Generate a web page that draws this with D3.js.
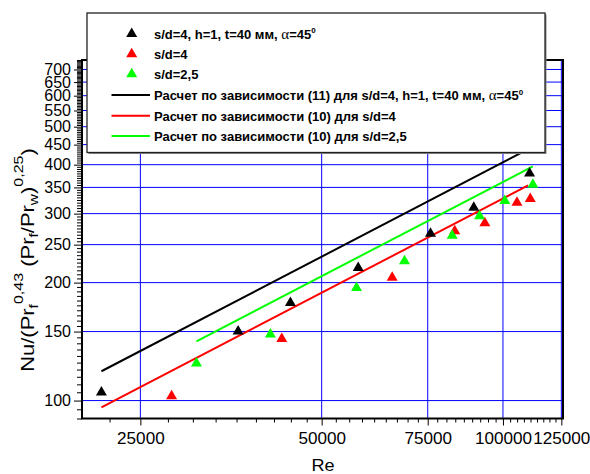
<!DOCTYPE html>
<html><head><meta charset="utf-8">
<script src="https://cdn.jsdelivr.net/npm/d3@7"></script>
<style>body{margin:0;background:#fff}svg{display:block}</style>
</head><body><svg id="c" width="590" height="474"></svg>
<script>
// ---- data ----
const blackRe = [21540, 36330, 44370, 57500, 75800, 89440, 110700];
const blackNu = [105.9, 151.5, 179.2, 220.1, 269.4, 313.7, 383.8];
const redRe   = [28170, 42930, 65470, 83170, 93300, 105500, 111000];
const redNu   = [103.6, 145.0, 208.0, 273.1, 286.2, 323.2, 330.1];
const greenRe = [30980, 41100, 57130, 68630, 82360, 91420, 100700, 112100];
const greenNu = [125.5, 148.9, 195.7, 228.9, 266.2, 298.2, 326.2, 359.3];
// calculated lines (straight on log-log): [Re start, Re end], [Nu start, Nu end]
const lineBlackRe = [21540, 111000], lineBlackNu = [118.8, 440.8];
const lineRedRe   = [21540, 110100], lineRedNu   = [96.1, 354.3];
const lineGreenRe = [30980, 112100], lineGreenNu = [141.7, 396.0];
const xTickValues = [25000, 50000, 75000, 100000, 125000];
const yTickValues = [100,150,200,250,300,350,400,450,500,550,600,650,700];
const legendLabels = [
  "s/d=4, h=1, t=40 мм, ",
  "s/d=4",
  "s/d=2,5",
  "Расчет по зависимости (11) для s/d=4, h=1, t=40 мм, ",
  "Расчет по зависимости (10) для s/d=4",
  "Расчет по зависимости (10) для s/d=2,5"
];

const FONT = "Arial, 'Liberation Sans', sans-serif";
const svg = d3.select("#c");
const L = 82, R = 563, T = 60, B = 418.5;
const x = d3.scaleLog().domain([20000, 125800]).range([L, R]);
const y = d3.scaleLog().domain([90, 740]).range([B, T]);

// grid
const grid = svg.append("g").attr("stroke", "#0000ff").attr("stroke-width", 1);
xTickValues.forEach(v => grid.append("line").attr("x1", x(v)).attr("x2", x(v)).attr("y1", T).attr("y2", B));
yTickValues.forEach(v => grid.append("line").attr("x1", L).attr("x2", R).attr("y1", y(v)).attr("y2", y(v)));

// minor ticks
const xMinor = [];
for (let a = 0; a < 125000; a += 25000) for (let k = 1; k <= 8; k++) {
  const v = a + k * 25000 / 9; if (v >= 20000 && v <= 125800) xMinor.push(v);
}
const yMinor = [];
for (let v = 90; v <= 740; v += 5) if (!(v % 50 === 0 && v >= 100)) yMinor.push(v);

function styleAxis(g) {
  g.select(".domain").remove();
  g.selectAll("line").attr("stroke", "#000").attr("stroke-width", 1);
  g.selectAll("text").attr("font-family", FONT).attr("font-size", 16).attr("fill", "#000");
}
svg.append("g").attr("transform", `translate(0,${B})`)
  .call(d3.axisBottom(x).tickValues(xMinor).tickSize(4).tickFormat("")).call(styleAxis);
svg.append("g").attr("transform", `translate(0,${B})`)
  .call(d3.axisBottom(x).tickValues(xTickValues).tickSize(7).tickPadding(7).tickFormat(d3.format("d")))
  .call(styleAxis)
  .call(g => g.selectAll("text").attr("transform", "scale(1.07,1)"));
svg.append("g").attr("transform", `translate(${L},0)`)
  .call(d3.axisLeft(y).tickValues(yMinor).tickSize(5).tickFormat("")).call(styleAxis);
svg.append("g").attr("transform", `translate(${L},0)`)
  .call(d3.axisLeft(y).tickValues(yTickValues).tickSize(8).tickPadding(3).tickFormat(d3.format("d"))).call(styleAxis);

// calc lines
const lineGen = d3.line().x(d => x(d[0])).y(d => y(d[1]));
[[lineBlackRe, lineBlackNu, "#000"], [lineRedRe, lineRedNu, "#ff0000"], [lineGreenRe, lineGreenNu, "#00ff00"]]
  .forEach(([re, nu, c]) => svg.append("path").datum(d3.zip(re, nu)).attr("d", lineGen)
    .attr("fill", "none").attr("stroke", c).attr("stroke-width", 2));

// markers
function tri(cx, cy) { return `M${cx},${cy-4.8}L${cx+5.5},${cy+4.7}L${cx-5.5},${cy+4.7}Z`; }
[[blackRe, blackNu, "#000"], [redRe, redNu, "#ff0000"], [greenRe, greenNu, "#00ff00"]]
  .forEach(([re, nu, c]) => svg.append("g").selectAll("path").data(d3.zip(re, nu)).join("path")
    .attr("d", d => tri(x(d[0]), y(d[1]))).attr("fill", c));

// frame
svg.append("rect").attr("x", L).attr("y", T).attr("width", R - L).attr("height", B - T)
  .attr("fill", "none").attr("stroke", "#000").attr("stroke-width", 2);

// axis titles
svg.append("text").attr("x", 323).attr("y", 471).attr("text-anchor", "middle")
  .attr("font-family", FONT).attr("font-size", 17).attr("transform", "translate(-21,0) scale(1.065,1)").text("Re");
const yt = svg.append("text").attr("transform", "translate(33.5,259) rotate(-90)")
  .attr("text-anchor", "middle").attr("font-family", FONT).attr("font-size", 18.5);
yt.append("tspan").text("Nu/(Pr");
yt.append("tspan").attr("dy", 4).attr("font-size", 13).text("f");
yt.append("tspan").attr("dy", -14.5).attr("font-size", 13.5).text("0,43");
yt.append("tspan").attr("dy", 10.5).text(" (Pr");
yt.append("tspan").attr("dy", 4).attr("font-size", 13).text("f");
yt.append("tspan").attr("dy", -4).text("/Pr");
yt.append("tspan").attr("dy", 4).attr("font-size", 13).text("w");
yt.append("tspan").attr("dy", -4).text(")");
yt.append("tspan").attr("dy", -10.5).attr("font-size", 13.5).text("0,25");
yt.append("tspan").attr("dy", 10.5).text(")");
// stretch along reading direction so the title spans about y=148..372
const titleLen = yt.node().getComputedTextLength();
const sTitle = titleLen > 0 ? 224 / titleLen : 1.15;
yt.attr("transform", `translate(33.5,260) rotate(-90) scale(${sTitle},1)`);

// legend
const lg = svg.append("g");
lg.append("rect").attr("x", 88.5).attr("y", 14.5).attr("width", 458).attr("height", 139.5).attr("fill", "#888");
lg.append("rect").attr("x", 87).attr("y", 13).attr("width", 458).attr("height", 139.5)
  .attr("fill", "#fff").attr("stroke", "#222").attr("stroke-width", 1.3);
const rows = [32.2, 52.5, 72.5, 95, 115.7, 136];
const colors = ["#000", "#ff0000", "#00ff00"];
legendLabels.forEach((lab, i) => {
  const ry = rows[i];
  if (i < 3) lg.append("path").attr("d", tri(131.7, ry)).attr("fill", colors[i]);
  else lg.append("line").attr("x1", 111.5).attr("x2", 150).attr("y1", ry).attr("y2", ry)
    .attr("stroke", colors[i - 3]).attr("stroke-width", 2);
  const t = lg.append("text").attr("x", 154).attr("y", ry + (i < 3 ? 6.3 : 5.3)).attr("font-family", FONT)
    .attr("font-size", 13).attr("font-weight", "bold").text(lab);
  if (i === 0 || i === 3) {
    t.append("tspan").attr("font-weight", "normal").attr("font-family", "'Liberation Serif', serif").attr("font-size", 15).text("α");
    t.append("tspan").text("=45");
    t.append("tspan").attr("dy", -5.5).attr("font-size", 8).text("0");
  }
});
</script></body></html>
